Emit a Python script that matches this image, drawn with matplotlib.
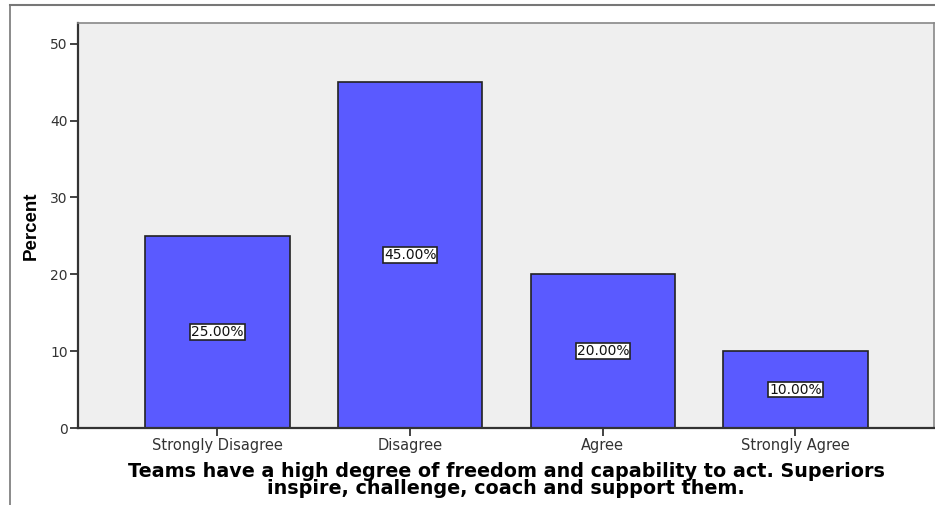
import matplotlib.pyplot as plt
from matplotlib.lines import Line2D

# response categories and percentages
categories = ["Strongly Disagree", "Disagree", "Agree", "Strongly Agree"]
percents = [25.0, 45.0, 20.0, 10.0]
yticks = [0, 10, 20, 30, 40, 50]
xlabel = ("Teams have a high degree of freedom and capability to act. Superiors\n"
          "inspire, challenge, coach and support them.")

plt.rcParams["font.family"] = ["DejaVu Sans"]

fig = plt.figure(figsize=(9.35, 5.05), dpi=100)
W, H = 935, 505
ax = fig.add_axes([78 / W, 1 - 428 / H, (934 - 78) / W, (428 - 23) / H])
ax.set_facecolor("#efefef")

x = list(range(len(categories)))
bars = ax.bar(x, percents, width=0.75, color="#5a5aff", edgecolor="#222222",
              linewidth=1.2, zorder=2)

for bar, p in zip(bars, percents):
    ax.text(bar.get_x() + bar.get_width() / 2, p / 2, f"{p:.2f}%",
            ha="center", va="center", fontsize=10, color="#111111", zorder=3,
            bbox=dict(boxstyle="square,pad=0.06", fc="white", ec="#222222", lw=1.2))

ax.set_xlim(-0.724, 3.719)
ax.set_ylim(0, 52.7)
ax.set_xticks(x)
ax.set_xticklabels(categories, fontsize=10.5, color="#333333")
ax.set_yticks(yticks)
ax.set_yticklabels([str(t) for t in yticks], fontsize=10, color="#333333")
ax.tick_params(axis="both", direction="out", length=6, width=1.2, color="#222222",
               pad=1.5)

for side in ["left", "bottom"]:
    ax.spines[side].set_linewidth(1.6)
    ax.spines[side].set_color("#333333")
for side in ["top", "right"]:
    ax.spines[side].set_linewidth(1.2)
    ax.spines[side].set_color("#888888")

ax.set_ylabel("Percent", fontsize=13.5, fontweight="bold",
              family=["Liberation Sans", "DejaVu Sans"], labelpad=7)
ax.set_xlabel(xlabel, fontsize=13.8, fontweight="bold", linespacing=0.9, labelpad=6)

# outer chart frame (top and left edges)
fig.add_artist(Line2D([10 / W, 1], [1 - 5 / H, 1 - 5 / H], color="#777777", lw=1.5,
                      transform=fig.transFigure))
fig.add_artist(Line2D([10 / W, 10 / W], [0, 1 - 5 / H], color="#777777", lw=1.2,
                      transform=fig.transFigure))

fig.savefig("out.png", dpi=100)
